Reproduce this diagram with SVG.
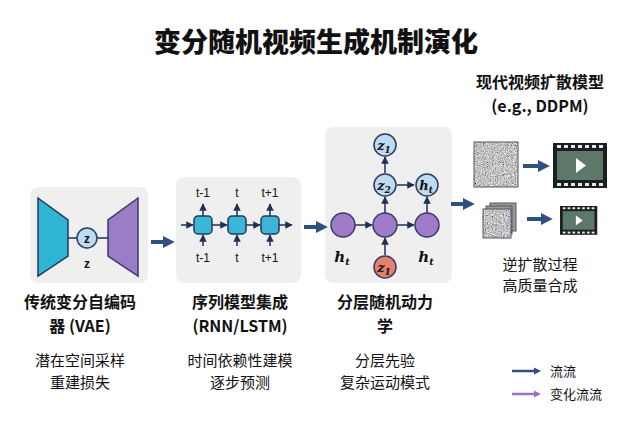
<svg xmlns="http://www.w3.org/2000/svg" width="632" height="424" viewBox="0 0 632 424">
<style>
.t{font-family:"Noto Sans CJK SC","Noto Sans",sans-serif;text-anchor:middle;fill:#111}
.h{font-weight:bold;font-size:16px}
.s{font-size:15px}
.sm{font-family:"Liberation Sans",sans-serif;font-size:12px;text-anchor:middle;fill:#111}
.panel{fill:#efefef}
.ln{stroke:#1f2f55;stroke-width:1.5;fill:none}
.big{stroke:#2f5080;stroke-width:4;fill:none}
.cell{fill:#3bb5d8;stroke:#1f3a5a;stroke-width:1.5}
.pc{fill:#a07cc8;stroke:#3a3a6a;stroke-width:1.5}
.bc{fill:#bfdbf0;stroke:#2a3d66;stroke-width:1.5}
.m{font-family:"DejaVu Serif",serif;font-style:italic;font-weight:bold;fill:#111;text-anchor:middle}
</style>
<defs>
<marker id="a" viewBox="0 0 10 10" refX="9" refY="5" markerWidth="5" markerHeight="5" orient="auto"><path d="M0,0L10,5L0,10z" fill="#1f2f55"/></marker>
<marker id="A" viewBox="0 0 10 10" refX="6" refY="5" markerWidth="3" markerHeight="3" orient="auto"><path d="M0,0L10,5L0,10z" fill="#2f5080"/></marker>
<marker id="P" viewBox="0 0 10 10" refX="6" refY="5" markerWidth="3" markerHeight="3" orient="auto"><path d="M0,0L10,5L0,10z" fill="#9a72c0"/></marker>
<filter id="n" x="0" y="0" width="1" height="1"><feTurbulence type="fractalNoise" baseFrequency="0.9" numOctaves="2" seed="3"/><feColorMatrix type="matrix" values="0.33 0.33 0.33 0 0  0.33 0.33 0.33 0 0  0.33 0.33 0.33 0 0  0 0 0 0 1"/><feComponentTransfer><feFuncR type="linear" slope="2.2" intercept="-0.55"/><feFuncG type="linear" slope="2.2" intercept="-0.55"/><feFuncB type="linear" slope="2.2" intercept="-0.55"/></feComponentTransfer></filter>
<g id="film"><rect x="0" y="0" width="54" height="45" fill="#1a1f22"/><rect x="4" y="8" width="46" height="29" fill="#5d7868"/><path d="M23,15L33,22.5L23,30z" fill="#fff"/><g fill="#e8e8e8"><rect x="4" y="2" width="4" height="3"/><rect x="11" y="2" width="4" height="3"/><rect x="18" y="2" width="4" height="3"/><rect x="25" y="2" width="4" height="3"/><rect x="32" y="2" width="4" height="3"/><rect x="39" y="2" width="4" height="3"/><rect x="46" y="2" width="4" height="3"/><rect x="4" y="40" width="4" height="3"/><rect x="11" y="40" width="4" height="3"/><rect x="18" y="40" width="4" height="3"/><rect x="25" y="40" width="4" height="3"/><rect x="32" y="40" width="4" height="3"/><rect x="39" y="40" width="4" height="3"/><rect x="46" y="40" width="4" height="3"/></g></g>
</defs>
<rect width="632" height="424" fill="#fff"/>
<text class="t" x="316" y="52" font-size="27" font-weight="900">变分随机视频生成机制演化</text>

<g id="vae">
<rect class="panel" x="30" y="187" width="118" height="96" rx="8"/>
<path d="M38,198L68,220L68,256L38,276z" fill="#2fb5d3" stroke="#1f3a5a" stroke-width="1.5"/>
<path d="M138,198L108,220L108,256L138,276z" fill="#9c7cc6" stroke="#3a3a6a" stroke-width="1.5"/>
<path class="ln" d="M68,238H77M97,238H108"/>
<circle class="bc" cx="87" cy="238" r="10"/>
<text class="sm" x="87" y="243" font-weight="bold" font-size="13">z</text>
<text class="sm" x="87" y="268" font-weight="bold" font-size="13">z</text>
</g>

<g id="rnn">
<rect class="panel" x="176" y="177" width="125" height="106" rx="8"/>
<rect class="cell" x="194" y="216" width="18" height="18" rx="4"/>
<rect class="cell" x="228" y="216" width="18" height="18" rx="4"/>
<rect class="cell" x="261" y="216" width="18" height="18" rx="4"/>
<g class="ln" marker-end="url(#a)">
<path d="M181,225H193"/><path d="M212,225H227"/><path d="M246,225H260"/><path d="M279,225H292"/>
<path d="M203,216V204"/><path d="M237,216V204"/><path d="M270,216V204"/>
<path d="M203,246V235"/><path d="M237,246V235"/><path d="M270,246V235"/>
</g>
<g class="sm" font-size="13"><text x="203" y="197">t-1</text><text x="237" y="197">t</text><text x="270" y="197">t+1</text>
<text x="203" y="262">t-1</text><text x="237" y="262">t</text><text x="270" y="262">t+1</text></g>
</g>

<g id="hier">
<rect class="panel" x="325" y="127" width="127" height="156" rx="8"/>
<g class="ln" marker-end="url(#a)">
<path d="M355,225H372"/><path d="M397,225H414"/>
<path d="M385,213V197"/><path d="M427,213V197"/><path d="M385,173V157"/>
<path d="M397,185H414"/><path d="M385,255V238"/>
</g>
<circle class="pc" cx="343" cy="225" r="12"/><circle class="pc" cx="385" cy="225" r="12"/><circle class="pc" cx="427" cy="225" r="12"/>
<circle class="bc" cx="385" cy="145" r="11"/><circle class="bc" cx="385" cy="185" r="11"/><circle class="bc" cx="427" cy="185" r="11"/>
<circle cx="385" cy="267" r="11" fill="#e8806e" stroke="#3a3a6a" stroke-width="1.5"/>
<text class="m" x="384" y="150" font-size="13">z<tspan font-size="9" dy="3">1</tspan></text>
<text class="m" x="384" y="190" font-size="13">z<tspan font-size="9" dy="3">2</tspan></text>
<text class="m" x="426" y="190" font-size="13">h<tspan font-size="9" dy="3">t</tspan></text>
<text class="m" x="384" y="272" font-size="13">z<tspan font-size="9" dy="3">1</tspan></text>
<text class="m" x="342" y="262" font-size="15">h<tspan font-size="10" dy="3">t</tspan></text>
<text class="m" x="426" y="262" font-size="15">h<tspan font-size="10" dy="3">t</tspan></text>
</g>

<g id="diff">
<text class="t h" x="540" y="88">现代视频扩散模型</text>
<text class="t h" x="540" y="112" font-family="Liberation Sans,sans-serif">(e.g., DDPM)</text>
<rect x="474" y="142" width="44" height="45" fill="#888" filter="url(#n)"/>
<rect x="474" y="142" width="44" height="45" fill="none" stroke="#556" stroke-width="1"/>
<use href="#film" x="553" y="143"/>
<rect x="490" y="203" width="26" height="28" fill="#999" stroke="#556"/>
<rect x="486" y="206" width="26" height="28" fill="#999" stroke="#556"/>
<rect x="483" y="209" width="28" height="29" fill="#888" filter="url(#n)"/>
<rect x="483" y="209" width="28" height="29" fill="none" stroke="#556"/>
<use href="#film" transform="translate(560,206) scale(0.69,0.64)"/>
<text class="t s" x="540" y="270">逆扩散过程</text>
<text class="t s" x="540" y="291">高质量合成</text>
</g>

<g id="connectors" class="big" marker-end="url(#A)">
<path d="M151,242H170"/><path d="M304,227H323"/><path d="M451,204H470"/>
<path d="M523,166H545"/><path d="M527,219H548"/>
</g>

<g id="labels">
<text class="t h" x="80" y="308">传统变分自编码</text>
<text class="t h" x="80" y="332">器 (VAE)</text>
<text class="t h" x="240" y="308">序列模型集成</text>
<text class="t h" x="240" y="332">(RNN/LSTM)</text>
<text class="t h" x="385" y="308">分层随机动力</text>
<text class="t h" x="385" y="332">学</text>
<text class="t s" x="80" y="366">潜在空间采样</text>
<text class="t s" x="80" y="388">重建损失</text>
<text class="t s" x="240" y="366">时间依赖性建模</text>
<text class="t s" x="240" y="388">逐步预测</text>
<text class="t s" x="385" y="366">分层先验</text>
<text class="t s" x="385" y="388">复杂运动模式</text>
</g>

<g id="legend">
<path d="M512,371H538" stroke="#2f5080" stroke-width="2.5" marker-end="url(#A)"/>
<path d="M512,394H538" stroke="#9a72c0" stroke-width="2.5" marker-end="url(#P)"/>
<text class="t" x="550" y="376" font-size="13" style="text-anchor:start">流流</text>
<text class="t" x="550" y="399" font-size="13" style="text-anchor:start">变化流流</text>
</g>
</svg>
